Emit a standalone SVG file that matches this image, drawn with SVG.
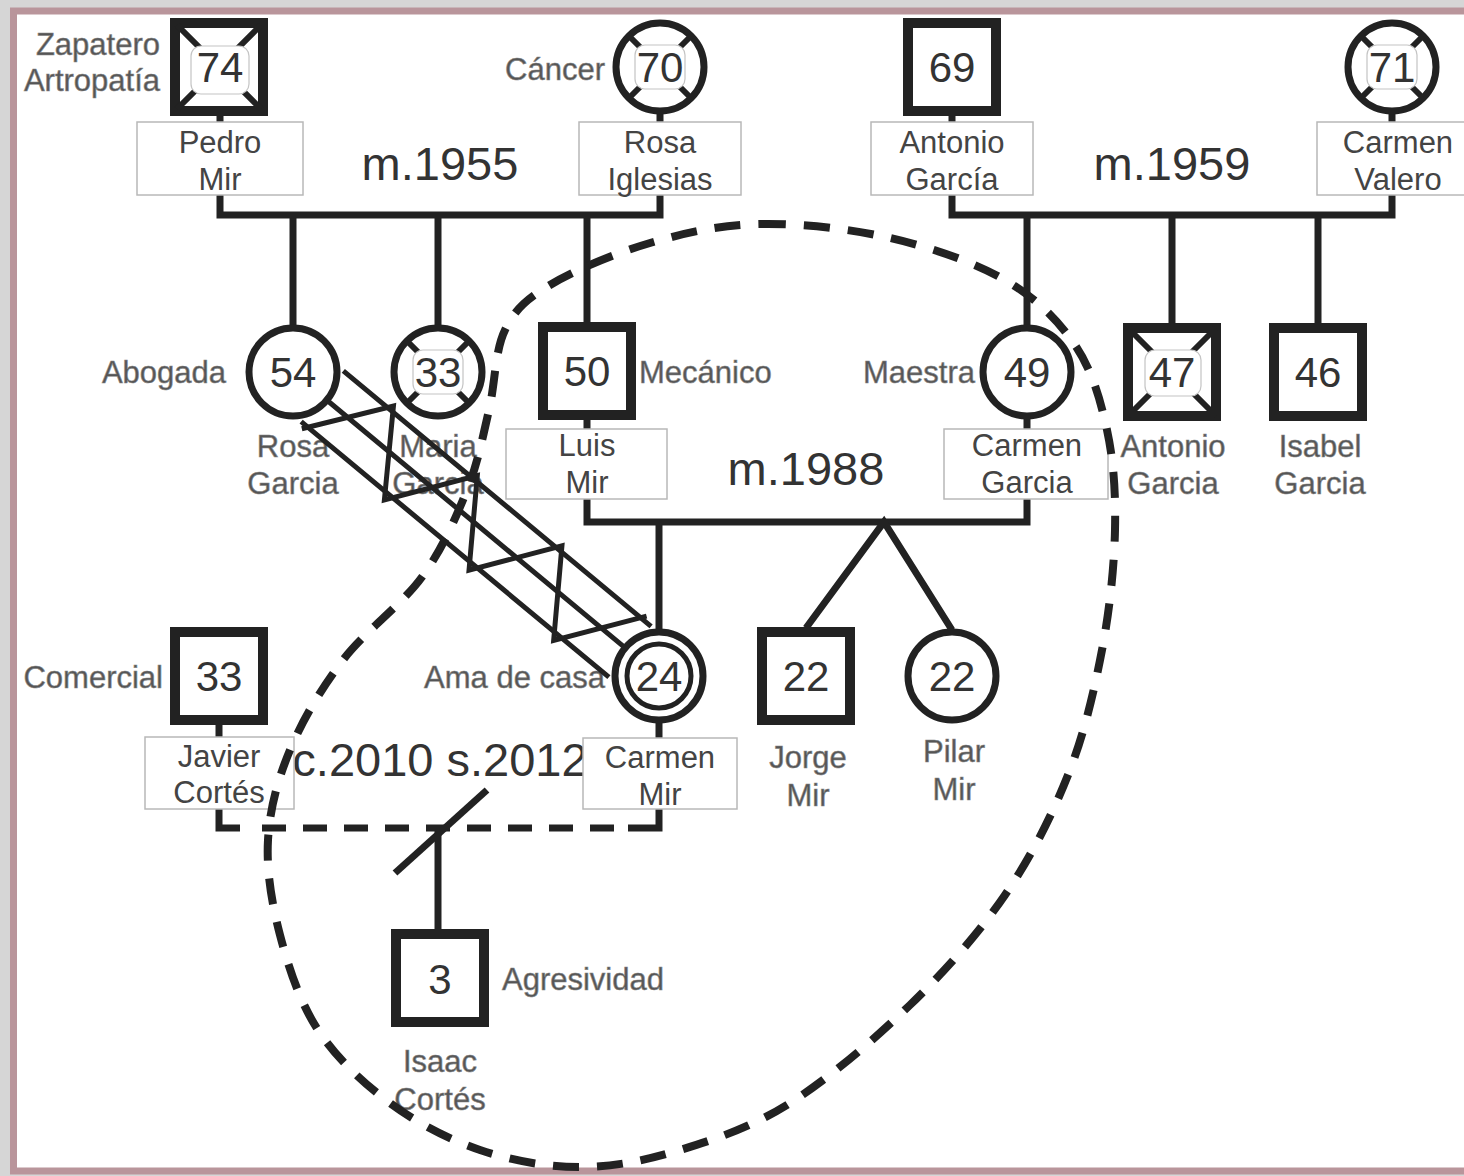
<svg xmlns="http://www.w3.org/2000/svg" width="1464" height="1176" viewBox="0 0 1464 1176">
<style>
.conn{fill:none;stroke:#222;stroke-width:7;stroke-linejoin:miter}
.sq{fill:#fff;stroke:#222;stroke-width:10}
.ci{fill:#fff;stroke:#222;stroke-width:7}
.ci2{fill:none;stroke:#222;stroke-width:5}
.x{stroke:#222;stroke-width:6}
.halo{fill:#fff;stroke:#c4c4c4;stroke-width:1.2}
.num{font-family:"Liberation Sans",Arial,sans-serif;font-size:42px;fill:#333;text-anchor:middle}
.lbl{font-family:"Liberation Sans",Arial,sans-serif;font-size:31px;fill:#555;stroke:#888;stroke-width:0.6}
.nm{font-family:"Liberation Sans",Arial,sans-serif;font-size:31px;fill:#444;text-anchor:middle}
.nm2{font-family:"Liberation Sans",Arial,sans-serif;font-size:31px;fill:#555;stroke:#888;stroke-width:0.6;text-anchor:middle}
.box{fill:#fff;stroke:#b8b8b8;stroke-width:1.5}
.big{font-family:"Liberation Sans",Arial,sans-serif;font-size:47px;fill:#333;text-anchor:middle}
.rel{fill:none;stroke:#222;stroke-width:5;stroke-linejoin:miter}
.dash{fill:none;stroke:#222;stroke-width:8;stroke-dasharray:26 18}
</style>
<rect x="0" y="0" width="1464" height="1176" fill="#d6d6d6"/>
<rect x="13.5" y="11" width="1480" height="1160" fill="#fff" stroke="#b9959b" stroke-width="7"/>

<g id="connectors">
  <!-- stubs node to name box -->
  <path class="conn" d="M220,112 V123 M660,112 V123 M952,112 V123 M1392,112 V123 M587,416 V430 M1027,416 V430 M219,720 V738 M659,720 V738"/>
  <!-- m.1955 -->
  <path class="conn" d="M220,195 V215 H660 V195"/>
  <path class="conn" d="M293,215 V328 M438,215 V328 M587,215 V325"/>
  <!-- m.1959 -->
  <path class="conn" d="M952,195 V215 H1392 V195"/>
  <path class="conn" d="M1027,215 V328 M1172,215 V325 M1318,215 V325"/>
  <!-- m.1988 -->
  <path class="conn" d="M587,498 V522 H1027 V498"/>
  <path class="conn" d="M659,522 V632"/>
  <path class="conn" d="M806,628 L884,522 L952,630"/>
  <!-- cohabitation -->
  <path class="conn" d="M219,808 V828 H240 M628,828 H659 V808"/>
  <path class="conn" d="M262,828 H614" stroke-dasharray="24 17"/>
  <path class="conn" d="M395,873 L487,790"/>
  <path class="conn" d="M438,828 V934"/>
</g>

<g id="pedro">
  <rect x="-44" y="-44" width="88" height="88" class="sq" transform="translate(219 67)" stroke-width="12"/>
  <path class="x" d="M177,25 L261,109 M261,25 L177,109"/>
  <rect class="halo" x="191" y="46" width="58" height="48" rx="10"/>
  <text class="num" x="220" y="82">74</text>
  <text class="lbl" x="160" y="55" text-anchor="end">Zapatero</text>
  <text class="lbl" x="160" y="91" text-anchor="end">Artropatía</text>
  <rect class="box" x="137" y="122" width="166" height="73"/>
  <text class="nm" x="220" y="153">Pedro</text>
  <text class="nm" x="220" y="190">Mir</text>
</g>

<g id="rosa-iglesias">
  <circle cx="660" cy="67" r="44" class="ci"/>
  <path class="x" d="M629,36 L691,98 M691,36 L629,98"/>
  <rect class="halo" x="635" y="45" width="50" height="44" rx="10"/>
  <text class="num" x="660" y="82">70</text>
  <text class="lbl" x="605" y="80" text-anchor="end">Cáncer</text>
  <rect class="box" x="579" y="122" width="162" height="73"/>
  <text class="nm" x="660" y="153">Rosa</text>
  <text class="nm" x="660" y="190">Iglesias</text>
</g>

<g id="antonio-garcia-sr">
  <rect x="908" y="23" width="88" height="88" class="sq"/>
  <text class="num" x="952" y="82">69</text>
  <rect class="box" x="871" y="122" width="162" height="73"/>
  <text class="nm" x="952" y="153">Antonio</text>
  <text class="nm" x="952" y="190">García</text>
</g>

<g id="carmen-valero">
  <circle cx="1392" cy="67" r="44" class="ci"/>
  <path class="x" d="M1361,36 L1423,98 M1423,36 L1361,98"/>
  <rect class="halo" x="1367" y="45" width="50" height="44" rx="10"/>
  <text class="num" x="1392" y="82">71</text>
  <rect class="box" x="1317" y="122" width="162" height="73"/>
  <text class="nm" x="1398" y="153">Carmen</text>
  <text class="nm" x="1398" y="190">Valero</text>
</g>

<g id="marriage-labels">
  <text class="big" x="440" y="180">m.1955</text>
  <text class="big" x="1172" y="180">m.1959</text>
  <text class="big" x="806" y="485">m.1988</text>
  <text class="big" x="440" y="776">c.2010 s.2012</text>
</g>

<g id="rosa-garcia">
  <circle cx="293" cy="372" r="44" class="ci"/>
  <text class="num" x="293" y="387">54</text>
  <text class="lbl" x="226" y="383" text-anchor="end">Abogada</text>
  <text class="nm2" x="293" y="457">Rosa</text>
  <text class="nm2" x="293" y="494">Garcia</text>
</g>

<g id="maria-garcia">
  <circle cx="438" cy="372" r="44" class="ci"/>
  <path class="x" d="M407,341 L469,403 M469,341 L407,403"/>
  <rect class="halo" x="413" y="350" width="50" height="44" rx="10"/>
  <text class="num" x="438" y="387">33</text>
  <text class="nm2" x="438" y="457">Maria</text>
  <text class="nm2" x="438" y="494">Garcia</text>
</g>

<g id="luis-mir">
  <rect x="543" y="327" width="88" height="88" class="sq"/>
  <text class="num" x="587" y="386">50</text>
  <text class="lbl" x="639" y="383">Mecánico</text>
  <rect class="box" x="506" y="429" width="161" height="70"/>
  <text class="nm" x="587" y="456">Luis</text>
  <text class="nm" x="587" y="493">Mir</text>
</g>

<g id="carmen-garcia">
  <circle cx="1027" cy="372" r="44" class="ci"/>
  <text class="num" x="1027" y="387">49</text>
  <text class="lbl" x="975" y="383" text-anchor="end">Maestra</text>
  <rect class="box" x="944" y="429" width="164" height="70"/>
  <text class="nm" x="1027" y="456">Carmen</text>
  <text class="nm" x="1027" y="493">Garcia</text>
</g>

<g id="antonio-garcia-jr">
  <rect x="1128" y="328" width="88" height="88" class="sq"/>
  <path class="x" d="M1128,328 L1216,416 M1216,328 L1128,416"/>
  <rect class="halo" x="1145" y="350" width="56" height="46" rx="10"/>
  <text class="num" x="1172" y="387">47</text>
  <text class="nm2" x="1173" y="457">Antonio</text>
  <text class="nm2" x="1173" y="494">Garcia</text>
</g>

<g id="isabel-garcia">
  <rect x="1274" y="328" width="88" height="88" class="sq"/>
  <text class="num" x="1318" y="387">46</text>
  <text class="nm2" x="1320" y="457">Isabel</text>
  <text class="nm2" x="1320" y="494">Garcia</text>
</g>

<g id="javier-cortes">
  <rect x="175" y="632" width="88" height="88" class="sq"/>
  <text class="num" x="219" y="691">33</text>
  <text class="lbl" x="163" y="688" text-anchor="end">Comercial</text>
  <rect class="box" x="145" y="737" width="149" height="72"/>
  <text class="nm" x="219" y="767">Javier</text>
  <text class="nm" x="219" y="803">Cortés</text>
</g>

<g id="carmen-mir">
  <circle cx="659" cy="676" r="44" class="ci"/>
  <circle cx="659" cy="676" r="32" class="ci2"/>
  <text class="num" x="659" y="691">24</text>
  <text class="lbl" x="605" y="688" text-anchor="end">Ama de casa</text>
  <rect class="box" x="583" y="738" width="154" height="71"/>
  <text class="nm" x="660" y="768">Carmen</text>
  <text class="nm" x="660" y="805">Mir</text>
</g>

<g id="jorge-mir">
  <rect x="762" y="632" width="88" height="88" class="sq"/>
  <text class="num" x="806" y="691">22</text>
  <text class="nm2" x="808" y="768">Jorge</text>
  <text class="nm2" x="808" y="806">Mir</text>
</g>

<g id="pilar-mir">
  <circle cx="952" cy="676" r="44" class="ci"/>
  <text class="num" x="952" y="691">22</text>
  <text class="nm2" x="954" y="762">Pilar</text>
  <text class="nm2" x="954" y="800">Mir</text>
</g>

<g id="isaac-cortes">
  <rect x="396" y="934" width="88" height="88" class="sq"/>
  <text class="num" x="440" y="994">3</text>
  <text class="lbl" x="502" y="990">Agresividad</text>
  <text class="nm2" x="440" y="1072">Isaac</text>
  <text class="nm2" x="440" y="1110">Cortés</text>
</g>

<g id="relationships">
  <g transform="translate(293 372) rotate(39.7)">
    <path class="rel" d="M38,-33 H438 M45,0 H431 M38,33 H438"/>
    <polyline class="rel" points="43,38 99,-38 152,40 208,-38 262,40 318,-38 372,40 428,-38"/>
  </g>
  <path class="dash" d="M760,224 C800,223.2 849.2,228.7 890,238 C930.8,247.3 974.2,262.2 1005,280 C1035.8,297.8 1058,320 1075,345 C1092,370 1100.3,399.2 1107,430 C1113.7,460.8 1115.8,493.3 1115,530 C1114.2,566.7 1109.8,609.2 1102,650 C1094.2,690.8 1084.2,734.2 1068,775 C1051.8,815.8 1031.3,856.7 1005,895 C978.7,933.3 945.8,970.3 910,1005 C874.2,1039.7 828.3,1078.8 790,1103 C751.7,1127.2 715,1139.3 680,1150 C645,1160.7 613.3,1167 580,1167 C546.7,1167 511.7,1160.7 480,1150 C448.3,1139.3 417,1123 390,1103 C363,1083 336.3,1058 318,1030 C299.7,1002 288.3,966.7 280,935 C271.7,903.3 266.3,870.8 268,840 C269.7,809.2 277.5,780 290,750 C302.5,720 321,688.8 343,660 C365,631.2 401.3,605.3 422,577 C442.7,548.7 455.8,517.8 467,490 C478.2,462.2 482.7,436.7 489,410 C495.3,383.3 494.8,350.8 505,330 C515.2,309.2 525.8,299.5 550,285 C574.2,270.5 615,253.2 650,243 C685,232.8 720,224.8 760,224 Z"/>
</g>
</svg>
